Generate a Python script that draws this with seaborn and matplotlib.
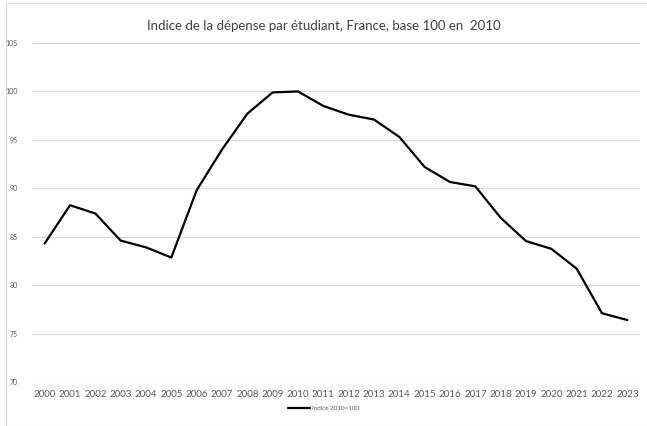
import matplotlib
matplotlib.use("Agg")
import matplotlib.pyplot as plt
import seaborn as sns
import pandas as pd

# Indice de la dépense par étudiant (base 100 en 2010)
annees = list(range(2000, 2024))
indice = [84.3, 88.25, 87.4, 84.6, 83.9, 82.85, 89.8, 94.0, 97.7, 99.9,
          100.0, 98.5, 97.6, 97.1, 95.3, 92.2, 90.65, 90.2, 86.95, 84.55,
          83.75, 81.7, 77.1, 76.4]
yticks = [70, 75, 80, 85, 90, 95, 100, 105]

df = pd.DataFrame({"annee": annees, "Indice 2010=100": indice})

sns.set_style("white")
plt.rcParams["font.family"] = ["Lato", "DejaVu Sans"]

fig = plt.figure(figsize=(6.47, 4.26), dpi=100)
ax = fig.add_axes([32 / 647, 1 - 382 / 426, 608 / 647, 339 / 426])

sns.lineplot(data=df, x="annee", y="Indice 2010=100", color="black",
             linewidth=1.6, ax=ax, label="Indice 2010=100")

ax.set_xlim(1999.5, 2023.5)
ax.set_ylim(70, 105)
ax.set_yticks(yticks)
ax.set_xticks(annees)
ax.set_xticklabels([str(a) for a in annees], fontsize=7, color="#595959")
ax.set_yticklabels([str(v) for v in yticks], fontsize=5, color="#595959")
ax.tick_params(axis="both", length=0)
ax.tick_params(axis="y", pad=10)
ax.tick_params(axis="x", pad=6)
ax.grid(axis="y", color="#d9d9d9", linewidth=0.8)
ax.set_axisbelow(True)
for s in ax.spines.values():
    s.set_visible(False)
ax.set_xlabel("")
ax.set_ylabel("")

fig.suptitle("Indice de la dépense par étudiant, France, base 100 en  2010",
             y=1 - 20 / 426, fontsize=9.5, color="#404040")

ax.legend(loc="center", bbox_to_anchor=(0.5, 1 - 408 / 426),
          bbox_transform=fig.transFigure, frameon=False, fontsize=4.5,
          handlelength=3.5, handletextpad=0.3, labelcolor="#595959")

# cadre du graphique
fig.patches.append(plt.Rectangle((6 / 647, 0), 1, 1 - 3 / 426, transform=fig.transFigure,
                                 fill=False, edgecolor="#d9d9d9", linewidth=0.8))

fig.savefig("out.png", dpi=100)
